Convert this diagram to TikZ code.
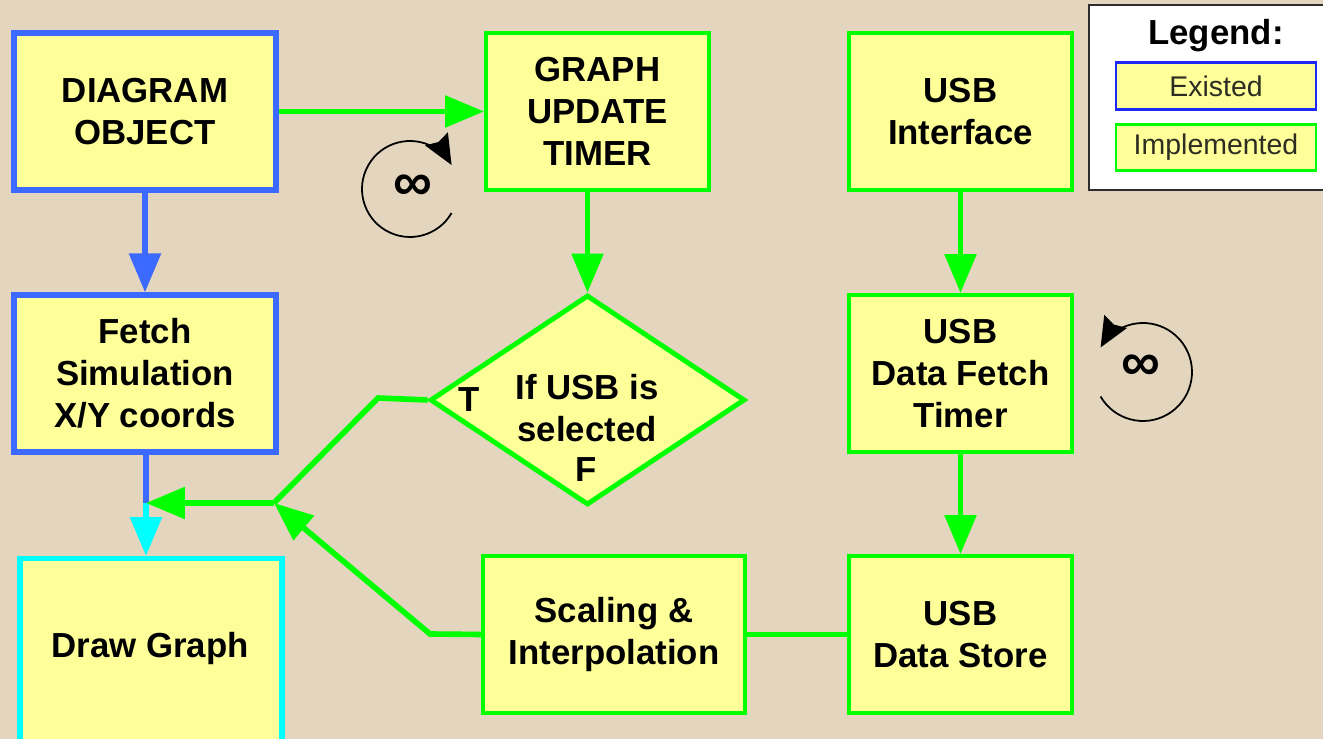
\documentclass[tikz,border=0pt]{standalone}
\usepackage{fontspec}
\setmainfont{Liberation Sans}
\usetikzlibrary{shapes.geometric,arrows.meta}
\definecolor{paper}{RGB}{228,213,190}
\definecolor{boxfill}{RGB}{255,255,153}
\definecolor{oldblue}{RGB}{60,105,255}
\definecolor{newgreen}{RGB}{0,255,0}
\definecolor{drawcyan}{RGB}{0,255,255}
\definecolor{legblue}{RGB}{30,40,250}
\definecolor{legtext}{RGB}{45,45,35}
\definecolor{legframe}{RGB}{45,45,45}

\begin{document}
\begin{tikzpicture}[x=0.02cm,y=-0.02cm,
  every node/.style={font=\fontsize{19.8}{23.8}\selectfont\bfseries, text=black},
  box/.style={rectangle, fill=boxfill, align=center, inner sep=0pt},
  existbox/.style={box, draw=oldblue, line width=3pt, minimum width=5.24cm, minimum height=3.14cm},
  implbox/.style={box, draw=newgreen, line width=2.2pt, minimum width=4.46cm, minimum height=3.14cm},
  widebox/.style={implbox, minimum width=5.24cm},
  decision/.style={diamond, fill=boxfill, draw=newgreen, line width=2.8pt, inner sep=0pt,
    minimum width=6.3cm, minimum height=4.2cm, align=center},
  tip/.style={-{Triangle[length=0.78cm,width=0.62cm]}},
  gline/.style={draw=newgreen, line width=3.2pt},
  bline/.style={draw=oldblue, line width=3.2pt},
  cline/.style={draw=drawcyan, line width=3.2pt},
  loopline/.style={draw=black, line width=1pt, -{Stealth[length=0.6cm,width=0.52cm,inset=0.07cm]}},
  looptext/.style={font=\fontsize{31}{31}\selectfont\bfseries},
  legitem/.style={rectangle, fill=boxfill, line width=1.6pt, minimum width=4cm, minimum height=0.93cm,
    inner sep=0pt, font=\fontsize{16.2}{19}\selectfont, text=legtext}
]
% canvas
\fill[paper] (0,0) rectangle (1323,739);
\useasboundingbox (0,0) rectangle (1323,739);

% process boxes
\node[existbox] (dobj) at (145,111.5) {DIAGRAM\\OBJECT};
\node[implbox] (gut) at (597.5,111.5) {GRAPH\\UPDATE\\TIMER};
\node[implbox] (usbi) at (960.5,111.5) {USB\\Interface};
\node[existbox] (fetch) at (145,373.5) {Fetch\\Simulation\\X/Y coords};
\node[decision] (dec) at (587.5,400) {};
\node (dectext) at (587,408) [align=center] {If USB is\\selected};
\node (tlabel) at (469,400) {T};
\node (flabel) at (586,470) {F};
\node[implbox] (dft) at (960.5,373.5) {USB\\Data Fetch\\Timer};
\node[box, draw=drawcyan, line width=3pt, minimum width=5.24cm, minimum height=4.2cm, anchor=north]
  (drawg) at (151,556) {};
\node (drawtext) at (150,649) {Draw Graph};
\node[widebox] (scal) at (614,634.5) {Scaling \&\\Interpolation};
\node[implbox] (dstore) at (960.5,634.5) {USB\\Data Store};

% legend
\draw[legframe, fill=white, line width=1.6pt] (1089,5) rectangle (1340,190);
\node (legtitle) at (1216,36) {Legend:};
\node[legitem, draw=legblue] (legold) at (1216,86) {Existed};
\node[legitem, draw=newgreen] (legnew) at (1216,147.5) {Implemented};

% junction points of the return paths
\coordinate (join) at (146,503);
\coordinate (fork) at (274,503);
\coordinate (tbend) at (378,398);
\coordinate (sbend) at (430,634);

% connectors
\draw[gline, tip] (dobj.east) -- (gut.west);
\draw[bline, tip] (dobj.south) -- (fetch.north);
\draw[gline, tip] (dec.north |- gut.south) -- (dec.north);
\draw[gline, tip] (usbi.south) -- (dft.north);
\draw[gline, tip] (dft.south) -- (dstore.north);
\draw[bline] (join |- fetch.south) -- (join);
\draw[cline, tip] (join) -- (join |- drawg.north);
\draw[gline] (dec.west) -- (tbend) -- (fork);
\draw[gline, tip] (fork) -- (join);
\draw[gline] (dstore.west) -- (scal.east);
\draw[gline, tip] (scal.west) -- (sbend) -- (fork);

% endless loop marks
\coordinate (loopa) at (410,189);
\coordinate (loopb) at (1143,372);
\draw[loopline] (loopa) ++(-30:0.96cm) arc[start angle=-30, end angle=-330, radius=0.96cm];
\node[looptext] (infa) at (413,188) {∞};
\draw[loopline] (loopb) ++(210:0.98cm) arc[start angle=210, end angle=510, radius=0.98cm];
\node[looptext] (infb) at (1141,368) {∞};
\end{tikzpicture}
\end{document}
